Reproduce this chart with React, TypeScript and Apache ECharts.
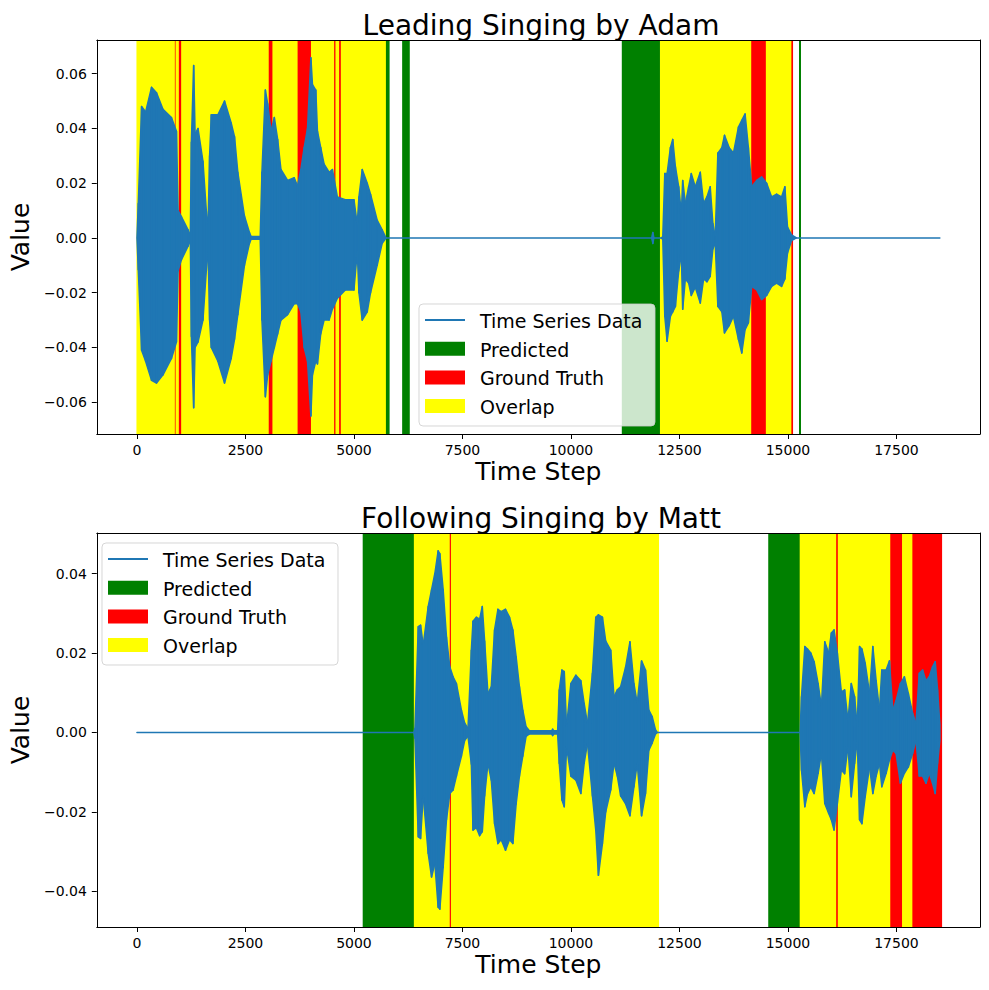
import React, { useEffect, useRef } from "react";
import * as echarts from "echarts";

// ---------- data ----------
const X_TICKS = [0, 2500, 5000, 7500, 10000, 12500, 15000, 17500];
const TOP_Y_TICKS = [-0.06, -0.04, -0.02, 0, 0.02, 0.04, 0.06];
const BOTTOM_Y_TICKS = [-0.04, -0.02, 0, 0.02, 0.04];

const TOP_TITLE = "Leading Singing by Adam";
const BOTTOM_TITLE = "Following Singing by Matt";
const X_NAME = "Time Step";
const Y_NAME = "Value";
const LEGEND_LABELS = ["Time Series Data", "Predicted", "Ground Truth", "Overlap"];

// waveform envelope (time step, upper peak, lower peak) — top chart
const topSteps = [
  0, 31, 107, 200, 336, 451, 600, 795, 910, 948, 1024, 1177, 1230, 1254, 1307, 1340, 1407, 1521, 1598, 1640,
  1674, 1713, 1865, 2018, 2171, 2248, 2324, 2477, 2592, 2630, 2840, 2880, 2959, 3012, 3089, 3165, 3242, 3318,
  3471, 3624, 3700, 3777, 3853, 3930, 4008, 4044, 4121, 4159, 4235, 4312, 4427, 4503, 4618, 4800, 5000, 5076,
  5115, 5191, 5306, 5382, 5535, 5650, 5740, 11860, 11887, 11910, 12080, 12116, 12162, 12215, 12292, 12345,
  12407, 12483, 12544, 12575, 12636, 12712, 12773, 12865, 12980, 13056, 13133, 13209, 13270, 13324, 13385,
  13477, 13538, 13645, 13744, 13859, 13936, 14012, 14088, 14165, 14280, 14394, 14509, 14624, 14738, 14853,
  14929, 14990, 15082, 15197, 18500,
];
const topUpper = [
  0, 0.0126, 0.048, 0.046, 0.055, 0.053, 0.047, 0.044, 0.039, 0.01, 0.0078, 0.003, 0.001, 0.035, 0.063, 0.038,
  0.04, 0.028, 0.01, 0.005, 0.03, 0.045, 0.045, 0.05, 0.042, 0.037, 0.024, 0.008, 0.002, 0.0005, 0.0005, 0.024,
  0.054, 0.049, 0.039, 0.044, 0.036, 0.025, 0.021, 0.022, 0.019, 0.025, 0.033, 0.04, 0.0658, 0.056, 0.054,
  0.039, 0.033, 0.027, 0.024, 0.025, 0.015, 0.014, 0.014, 0.005, 0.015, 0.025, 0.02, 0.016, 0.0065, 0.003, 0,
  0, 0.002, 0, 0, 0.0005, 0.0235, 0.0235, 0.033, 0.036, 0.026, 0.0187, 0.009, 0.021, 0.0126, 0.0187, 0.0235,
  0.0187, 0.024, 0.0126, 0.015, 0.0187, 0.0053, 0.0005, 0.031, 0.033, 0.0375, 0.033, 0.031, 0.0405, 0.043,
  0.0453, 0.033, 0.0187, 0.021, 0.0223, 0.02, 0.015, 0.016, 0.015, 0.0187, 0.004, 0.0011, 0, 0,
];
const topLower = [
  0, -0.0116, -0.041, -0.045, -0.052, -0.053, -0.05, -0.044, -0.038, -0.012, -0.008, -0.003, -0.001, -0.036,
  -0.062, -0.04, -0.038, -0.03, -0.012, -0.005, -0.03, -0.04, -0.045, -0.053, -0.044, -0.037, -0.028, -0.01,
  -0.002, -0.0005, -0.0005, -0.03, -0.058, -0.05, -0.045, -0.04, -0.035, -0.03, -0.028, -0.024, -0.024, -0.027,
  -0.04, -0.045, -0.065, -0.05, -0.045, -0.046, -0.035, -0.03, -0.03, -0.026, -0.022, -0.019, -0.019, -0.005,
  -0.02, -0.03, -0.027, -0.02, -0.01, -0.002, 0, 0, -0.002, 0, 0, -0.0005, -0.0286, -0.0377, -0.0286, -0.027,
  -0.025, -0.012, -0.006, -0.026, -0.015, -0.0165, -0.021, -0.018, -0.0238, -0.015, -0.016, -0.014, -0.004,
  -0.002, -0.025, -0.027, -0.0347, -0.032, -0.0286, -0.037, -0.042, -0.0335, -0.031, -0.0177, -0.019, -0.0225,
  -0.021, -0.0177, -0.0165, -0.0177, -0.015, -0.0055, -0.001, 0, 0,
];

// waveform envelope — bottom chart
const bottomSteps = [
  0, 6380, 6405, 6482, 6535, 6596, 6711, 6788, 6864, 6940, 6979, 7055, 7132, 7208, 7284, 7361, 7476, 7552,
  7628, 7705, 7743, 7820, 7896, 7957, 8011, 8087, 8164, 8240, 8317, 8393, 8492, 8584, 8661, 8737, 8813, 8890,
  8966, 9043, 9560, 9578, 9600, 9693, 9731, 9792, 9846, 9899, 9998, 10113, 10228, 10304, 10381, 10495, 10572,
  10633, 10725, 10801, 10916, 10992, 11069, 11145, 11260, 11359, 11451, 11527, 11627, 11718, 11795, 11871,
  11948, 11990, 15280, 15312, 15389, 15450, 15526, 15603, 15695, 15771, 15848, 15939, 16000, 16062, 16138,
  16230, 16306, 16383, 16459, 16536, 16597, 16650, 16704, 16780, 16880, 16956, 17032, 17109, 17162, 17262,
  17338, 17415, 17491, 17591, 17682, 17774, 17873, 17950, 18026, 18103, 18179, 18256, 18332, 18393, 18447,
  18500,
];
const bottomUpper = [
  0, 0, 0.001, 0.0266, 0.027, 0.022, 0.0317, 0.0359, 0.04, 0.0457, 0.045, 0.036, 0.024, 0.0165, 0.014, 0.0123,
  0.0056, 0.0023, 0.001, 0.0207, 0.028, 0.029, 0.0285, 0.0317, 0.023, 0.0098, 0.0115, 0.0258, 0.031, 0.0304,
  0.031, 0.029, 0.0258, 0.019, 0.0115, 0.0056, 0.0014, 0.0004, 0.0004, 0.0008, 0.0004, 0.0004, 0.0107, 0.0157,
  0.0153, 0.0014, 0.0123, 0.0144, 0.013, 0.0073, 0.0022, 0.0149, 0.029, 0.0296, 0.029, 0.023, 0.0207, 0.009,
  0.0107, 0.0115, 0.0165, 0.0228, 0.0123, 0.0073, 0.018, 0.0157, 0.0056, 0.004, 0.0006, 0, 0, 0.009, 0.0216,
  0.021, 0.02, 0.0178, 0.0123, 0.0065, 0.0228, 0.02, 0.025, 0.0258, 0.02, 0.0102, 0.0107, 0.003, 0.0123, 0.009,
  0.0014, 0.0216, 0.021, 0.0174, 0.0098, 0.0216, 0.013, 0.0056, 0.0157, 0.0157, 0.018, 0.0056, 0.008, 0.0123,
  0.014, 0.0098, 0.0048, 0.0023, 0.0149, 0.0157, 0.013, 0.014, 0.0165, 0.0178, 0.0107, 0.002,
];
const bottomLower = [
  0, 0, -0.0015, -0.0263, -0.0267, -0.016, -0.0305, -0.0364, -0.033, -0.044, -0.0445, -0.034, -0.022, -0.0154,
  -0.0145, -0.011, -0.006, -0.002, -0.001, -0.008, -0.0246, -0.024, -0.026, -0.025, -0.016, -0.0078, -0.012,
  -0.023, -0.028, -0.027, -0.0297, -0.027, -0.028, -0.018, -0.011, -0.006, -0.001, -0.0004, -0.0004, -0.0008,
  -0.0004, -0.0004, -0.0078, -0.017, -0.0187, -0.0036, -0.011, -0.012, -0.0154, -0.0078, -0.0027, -0.016,
  -0.0246, -0.036, -0.028, -0.02, -0.0145, -0.0078, -0.011, -0.016, -0.018, -0.021, -0.0137, -0.0078, -0.021,
  -0.0154, -0.0045, -0.0027, -0.0004, 0, 0, -0.0095, -0.0187, -0.0154, -0.0137, -0.0154, -0.0103, -0.0053,
  -0.0179, -0.0204, -0.022, -0.0246, -0.0179, -0.0095, -0.0104, -0.0036, -0.0162, -0.0078, -0.002, -0.022,
  -0.023, -0.0162, -0.0087, -0.0154, -0.011, -0.0078, -0.0137, -0.0103, -0.007, -0.0045, -0.0053, -0.0128,
  -0.0103, -0.0087, -0.0053, -0.002, -0.011, -0.011, -0.0128, -0.0103, -0.0128, -0.0154, -0.0078, -0.002,
];

// shaded spans [start, end]
const topPredicted = [[5725, 5810], [6122, 6275], [11183, 12062], [15266, 15289]];
const topGroundTruth = [
  [862, 901], [954, 1030], [3025, 3133], [3690, 4021], [4532, 4585], [4647, 4709], [14142, 14502], [15067, 15106],
];
const topOverlap = [
  [0, 862], [901, 954], [1030, 3025], [3133, 3690], [4021, 4532], [4585, 4647], [4709, 5725], [12062, 14142],
  [14502, 15067],
];
const bottomPredicted = [[5213, 6392], [14557, 15282]];
const bottomGroundTruth = [[7196, 7246], [16100, 16160], [17346, 17640], [17855, 18540]];
const bottomOverlap = [[6392, 7196], [7246, 12018], [15282, 16100], [16160, 17346], [17640, 17855]];

// ---------- styling ----------
const FONT = "DejaVu Sans";
const BLUE = "#1f77b4";
const GREEN = "#008000";
const RED = "#ff0000";
const YELLOW = "#ffff00";
const X_MIN = -925;
const X_MAX = 19425;

const fmtY = (v: number) => (v < 0 ? "\u2212" : "") + Math.abs(v).toFixed(2);

function spanSeries(name: string, color: string, spans: number[][], axis: number) {
  return {
    type: "custom",
    name,
    xAxisIndex: axis,
    yAxisIndex: axis,
    z: 1,
    silent: true,
    data: spans,
    encode: { x: [0, 1] },
    renderItem: (params: any, api: any) => {
      const cs = params.coordSys;
      const x0 = api.coord([api.value(0), 0])[0];
      const x1 = api.coord([api.value(1), 0])[0];
      return {
        type: "rect",
        shape: { x: x0 - 0.5, y: cs.y, width: Math.max(x1 - x0, 0.6) + 1, height: cs.height },
        style: { fill: color },
      };
    },
  };
}

function waveSeries(steps: number[], up: number[], lo: number[], axis: number) {
  const rows = steps.slice(0, -1).map((t, i) => [t, up[i], lo[i], steps[i + 1], up[i + 1], lo[i + 1]]);
  return {
    type: "custom",
    name: LEGEND_LABELS[0],
    xAxisIndex: axis,
    yAxisIndex: axis,
    z: 3,
    silent: true,
    data: rows,
    dimensions: ["t0", "u0", "l0", "t1", "u1", "l1"],
    encode: { x: [0, 3], y: [1, 2, 4, 5] },
    renderItem: (_params: any, api: any) => {
      const a = api.coord([api.value(0), api.value(1)]);
      const b = api.coord([api.value(3), api.value(4)]);
      const c = api.coord([api.value(3), api.value(5)]);
      const d = api.coord([api.value(0), api.value(2)]);
      return {
        type: "polygon",
        shape: { points: [a, b, c, d] },
        style: { fill: BLUE, stroke: BLUE, lineWidth: 1.5, lineJoin: "round" },
      };
    },
  };
}

function legendGraphic(x: number, y: number) {
  const rowGap = 28.7;
  const colors = [GREEN, RED, YELLOW];
  const Z = 100;
  const children: any[] = [
    {
      type: "rect",
      z: Z,
      shape: { x: 0, y: 0, width: 236, height: 122, r: 4 },
      style: { fill: "rgba(255,255,255,0.8)", stroke: "rgba(204,204,204,0.8)", lineWidth: 1 },
    },
    {
      type: "line",
      z: Z + 1,
      shape: { x1: 6, y1: 16, x2: 46, y2: 16 },
      style: { stroke: BLUE, lineWidth: 2 },
    },
  ];
  colors.forEach((c, i) => {
    children.push({
      type: "rect",
      z: Z + 1,
      shape: { x: 6, y: 16 + rowGap * (i + 1) - 7, width: 40, height: 14 },
      style: { fill: c },
    });
  });
  LEGEND_LABELS.forEach((label, i) => {
    children.push({
      type: "text",
      z: Z + 1,
      x: 61,
      y: 16 + rowGap * i + 1,
      style: {
        text: label,
        fill: "#000",
        font: `19px "${FONT}"`,
        textAlign: "left",
        textVerticalAlign: "middle",
      },
    });
  });
  return { type: "group", x, y, z: Z, children };
}

function mainX(grid: number) {
  return {
    type: "value",
    gridIndex: grid,
    min: X_MIN,
    max: X_MAX,
    z: 10,
    name: X_NAME,
    nameLocation: "middle",
    nameGap: 25,
    nameTextStyle: { fontSize: 25, color: "#000", fontFamily: FONT },
    axisLine: { show: true, onZero: false, lineStyle: { color: "#000", width: 1 } },
    axisTick: { show: true, length: 5, customValues: X_TICKS, lineStyle: { color: "#000", width: 1 } },
    axisLabel: {
      customValues: X_TICKS,
      margin: 9,
      color: "#000",
      fontSize: 14,
      fontFamily: FONT,
      formatter: (v: number) => String(v),
    },
    splitLine: { show: false },
  };
}
function frameX(grid: number) {
  return {
    type: "value",
    gridIndex: grid,
    position: "top",
    min: X_MIN,
    max: X_MAX,
    z: 10,
    axisLine: { show: true, onZero: false, lineStyle: { color: "#000", width: 1 } },
    axisTick: { show: false },
    axisLabel: { show: false },
    splitLine: { show: false },
  };
}
function mainY(grid: number, min: number, max: number, ticks: number[]) {
  return {
    type: "value",
    gridIndex: grid,
    min,
    max,
    z: 10,
    name: Y_NAME,
    nameLocation: "middle",
    nameGap: 58,
    nameTextStyle: { fontSize: 25, color: "#000", fontFamily: FONT },
    axisLine: { show: true, onZero: false, lineStyle: { color: "#000", width: 1 } },
    axisTick: { show: true, length: 5, customValues: ticks, lineStyle: { color: "#000", width: 1 } },
    axisLabel: { customValues: ticks, margin: 10, color: "#000", fontSize: 14, fontFamily: FONT, formatter: fmtY },
    splitLine: { show: false },
  };
}
function frameY(grid: number, min: number, max: number) {
  return {
    type: "value",
    gridIndex: grid,
    position: "right",
    min,
    max,
    z: 10,
    axisLine: { show: true, onZero: false, lineStyle: { color: "#000", width: 1 } },
    axisTick: { show: false },
    axisLabel: { show: false },
    splitLine: { show: false },
  };
}

export default function App() {
  const ref = useRef<HTMLDivElement>(null);

  useEffect(() => {
    document.body.style.margin = "0";
    if (!ref.current) return;
    const chart = echarts.init(ref.current, undefined, { renderer: "svg" });
    const option: any = {
      animation: false,
      backgroundColor: "#fff",
      textStyle: { fontFamily: FONT },
      title: [
        {
          text: TOP_TITLE,
          left: 536,
          top: 6,
          textAlign: "center",
          textStyle: { fontSize: 28, fontWeight: "normal", color: "#000", fontFamily: FONT },
        },
        {
          text: BOTTOM_TITLE,
          left: 536,
          top: 499,
          textAlign: "center",
          textStyle: { fontSize: 28, fontWeight: "normal", color: "#000", fontFamily: FONT },
        },
      ],
      grid: [
        { left: 92, top: 40, width: 888, height: 394 },
        { left: 92, top: 533, width: 888, height: 394 },
      ],
      xAxis: [mainX(0), frameX(0), mainX(1), frameX(1)],
      yAxis: [
        mainY(0, -0.0716, 0.0723, TOP_Y_TICKS),
        frameY(0, -0.0716, 0.0723),
        mainY(1, -0.049, 0.0502, BOTTOM_Y_TICKS),
        frameY(1, -0.049, 0.0502),
      ],
      series: [
        spanSeries(LEGEND_LABELS[1], GREEN, topPredicted, 0),
        spanSeries(LEGEND_LABELS[2], RED, topGroundTruth, 0),
        spanSeries(LEGEND_LABELS[3], YELLOW, topOverlap, 0),
        waveSeries(topSteps, topUpper, topLower, 0),
        spanSeries(LEGEND_LABELS[1], GREEN, bottomPredicted, 2),
        spanSeries(LEGEND_LABELS[2], RED, bottomGroundTruth, 2),
        spanSeries(LEGEND_LABELS[3], YELLOW, bottomOverlap, 2),
        waveSeries(bottomSteps, bottomUpper, bottomLower, 2),
      ],
      graphic: [legendGraphic(419, 304), legendGraphic(102, 543)],
    };
    chart.setOption(option);
    return () => chart.dispose();
  }, []);

  return <div ref={ref} style={{ width: 989, height: 990 }} />;
}
